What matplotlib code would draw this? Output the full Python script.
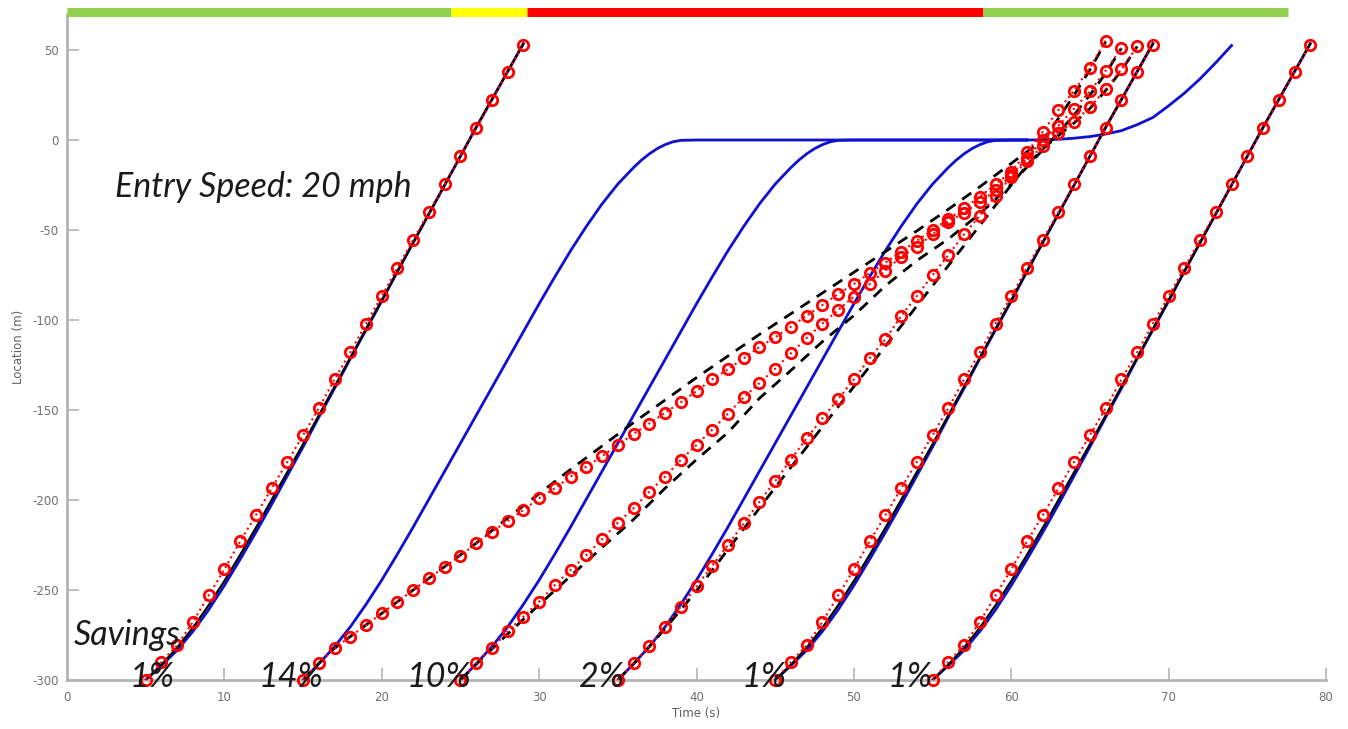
import matplotlib.pyplot as plt

plt.rcParams['axes.unicode_minus'] = False

# signal phase bar on top of the plot (time, s)
PHASE_START = [0, 24.4, 29.2, 58.2]
PHASE_END = [24.4, 29.2, 58.2, 77.6]
PHASE_COLOR = ['#92D050', '#FFFF00', '#FF0000', '#92D050']

# free-flow vehicles (enter at 5, 45, 55 s), sampled every second
V1_T = [5, 6, 7, 8, 9, 10, 11, 12, 13, 14, 15, 16, 17, 18, 19, 20, 21, 22, 23, 24, 25, 26, 27, 28, 29]
V5_T = [45, 46, 47, 48, 49, 50, 51, 52, 53, 54, 55, 56, 57, 58, 59, 60, 61, 62, 63, 64, 65, 66, 67, 68, 69]
V6_T = [55, 56, 57, 58, 59, 60, 61, 62, 63, 64, 65, 66, 67, 68, 69, 70, 71, 72, 73, 74, 75, 76, 77, 78, 79]
FREE_RED_Y = [-300, -290, -280.7, -267.8, -253, -238.5, -223, -208.5, -193.6, -178.8, -164, -149, -133,
              -118, -102, -86.8, -71, -55.4, -40.2, -24.7, -9, 6.4, 22, 37.8, 53]
FREE_BLACK_Y = [-300, -291.5, -282, -271, -258.5, -245, -230.5, -215.5, -200, -184.5, -169, -153, -137,
                -121, -105, -89, -73, -57, -41, -25, -9, 7, 22.5, 38, 53.5]
FREE_BLUE_Y = [-300, -292, -283.5, -273, -261, -247.5, -233, -218, -202.5, -186.5, -170.5, -154, -138,
               -121.5, -105.5, -89.5, -73, -57, -41, -25, -9, 7, 22.5, 38, 53.5]

# baseline (blue) vehicles that stop at the light
V2_BLUE_T = [15, 16, 17, 18, 19, 20, 21, 22, 23, 24, 25, 26, 27, 28, 29, 30, 31, 32, 33, 34, 35, 36, 36.5, 37,
             37.5, 38, 38.5, 39, 40, 61, 62, 63, 64, 65, 66, 67, 68, 69, 70, 71, 72, 73, 74]
V2_BLUE_Y = [-300, -291, -281.5, -270.5, -258, -244.5, -230, -215, -199.5, -184, -168.5, -153, -137.5, -122,
             -106.5, -91, -76, -61.5, -48, -35.5, -24.5, -15.3, -11.2, -7.7, -4.8, -2.6, -1, -0.2, 0,
             0, 0.1, 0.4, 1, 1.9, 3.3, 5.2, 8.5, 12.5, 19, 26, 34, 43, 52.5]
V3_BLUE_T = [25, 26, 27, 28, 29, 30, 31, 32, 33, 34, 35, 36, 37, 38, 39, 40, 41, 42, 43, 44, 45, 46, 46.5, 47,
             47.5, 48, 48.5, 49, 50, 61]
V3_BLUE_Y = [-300, -291, -281.5, -270.5, -258, -244.5, -230, -215, -199.5, -184, -168.5, -153, -137.5, -122,
             -106.5, -91, -76, -61.5, -48, -35.5, -24.5, -15.3, -11.2, -7.7, -4.8, -2.6, -1, -0.2, 0, 0]
V4_BLUE_T = [35, 36, 37, 38, 39, 40, 41, 42, 43, 44, 45, 46, 47, 48, 49, 50, 51, 52, 53, 54, 55, 56, 56.5, 57,
             57.5, 58, 58.5, 59, 60, 61]
V4_BLUE_Y = [-300, -291, -281.5, -270.5, -258, -244.5, -230, -215, -199.5, -184, -168.5, -153, -137.5, -122,
             -106.5, -91, -76, -61.5, -48, -35.5, -24.5, -15.3, -11.2, -7.7, -4.8, -2.6, -1, -0.2, 0, 0]

# eco-driving vehicles: red = actual, dashed black = planned
V2_T = [15, 16, 17, 18, 19, 20, 21, 22, 23, 24, 25, 26, 27, 28, 29, 30, 31, 32, 33, 34, 35, 36, 37, 38, 39, 40,
        41, 42, 43, 44, 45, 46, 47, 48, 49, 50, 51, 52, 53, 54, 55, 56, 57, 58, 59, 60, 61, 62, 63, 64, 65, 66]
V2_RED_Y = [-300, -290.7, -282.4, -275.9, -269.4, -263, -256.5, -250, -243.5, -237, -231, -224, -217.6, -211.7,
            -205.6, -199, -193.5, -187, -181.5, -175.6, -169.4, -163.3, -157.5, -151.5, -145.7, -139.5,
            -133, -127.4, -121.3, -115, -109.6, -103.7, -97.6, -91.7, -85.6, -80, -74, -68.2, -62, -56, -50,
            -44, -38, -31.5, -24.6, -17.6, -6.9, 4.6, 16.7, 27.4, 40.2, 55.2]
V2_DASH_T = [15, 16, 17, 18, 19, 20, 21, 22, 23, 24, 25, 26, 27, 28, 30, 32, 34, 36, 38, 40, 42, 44, 46, 48, 50,
             52, 54, 56, 58, 60, 62, 63, 64, 65, 66]
V2_DASH_Y = [-300, -290.7, -282.4, -275.9, -269.4, -263, -256.5, -250, -243.5, -237, -230.5, -224, -217, -210,
             -196.5, -183, -170, -157, -144.5, -132, -120, -108, -96.5, -85, -73.5, -62, -50.5, -38.5, -26,
             -13, 0, 12, 25, 39, 54.5]

V3_T = [25, 26, 27, 28, 29, 30, 31, 32, 33, 34, 35, 36, 37, 38, 39, 40, 41, 42, 43, 44, 45, 46, 47, 48, 49, 50,
        51, 52, 53, 54, 55, 56, 57, 58, 59, 60, 61, 62, 63, 64, 65, 66, 67]
V3_RED_Y = [-300, -290.7, -282.4, -273, -264.8, -256.5, -247.2, -238.9, -230.6, -221.8, -212.6, -204.6, -195.4,
            -187, -177.8, -169.4, -161, -152, -143, -135, -127, -118.5, -110, -102, -94.5, -87, -80, -72.6,
            -64.8, -59.3, -52.4, -45.4, -40.4, -34.6, -28, -19.5, -10, 0, 8, 17.5, 27, 38.5, 51]
V3_DASH_T = [25, 26, 27, 28, 29, 30, 32, 34, 36, 38, 40, 42, 44, 46, 48, 50, 52, 54, 56, 57, 58, 59, 60, 61, 62,
             63, 64, 65, 66, 67]
V3_DASH_Y = [-300, -291.3, -282.8, -274.5, -266.3, -258.2, -242.2, -226.4, -210.8, -193.5, -177.5, -162.5,
             -143.5, -128, -112, -97.5, -81, -67, -55, -48, -41, -33, -24.5, -15, -5.5, 4, 14, 25, 37, 51]

V4_T = [35, 36, 37, 38, 39, 40, 41, 42, 43, 44, 45, 46, 47, 48, 49, 50, 51, 52, 53, 54, 55, 56, 57, 58, 59, 60,
        61, 62, 63, 64, 65, 66, 67, 68]
V4_RED_Y = [-300, -290.7, -281, -270.4, -259.3, -248, -236.5, -225, -213, -201, -189.5, -177.5, -165.7, -154.6,
            -144, -133, -121.3, -110.7, -97.8, -86.7, -75, -63.9, -52.4, -42, -31, -20.5, -11.5, -3.5, 3.7,
            10.2, 18.2, 28.2, 39.3, 52]
V4_DASH_T = [35, 36, 37, 38, 39, 40, 45, 50, 55, 58, 60, 61, 62, 63, 64, 65, 66, 67, 68]
V4_DASH_Y = [-300, -291, -281.5, -271.5, -261, -250.5, -193, -137, -81, -47.5, -25, -14, -5, 2.5, 9.5, 17.5,
             27.5, 38.5, 52]

SAVINGS = ['1%', '14%', '10%', '2%', '1%', '1%']
SAVINGS_X = [5.43, 14.23, 23.63, 33.97, 44.28, 53.56]

BLUE = '#1010d0'
TEXT_FONT = ['Lato', 'DejaVu Sans']

fig = plt.figure(figsize=(13.48, 7.29), dpi=100)
ax = fig.add_axes([67 / 1348, 1 - 680 / 729, 1259 / 1348, 666 / 729])

# signal state bar
for x0, x1, c in zip(PHASE_START, PHASE_END, PHASE_COLOR):
    ax.plot([x0, x1], [71, 71], color=c, lw=6.5, solid_capstyle='butt', clip_on=False, zorder=5)

# baseline trajectories
for t, y in [(V1_T, FREE_BLUE_Y), (V5_T, FREE_BLUE_Y), (V6_T, FREE_BLUE_Y),
             (V2_BLUE_T, V2_BLUE_Y), (V3_BLUE_T, V3_BLUE_Y), (V4_BLUE_T, V4_BLUE_Y)]:
    ax.plot(t, y, '-', color=BLUE, lw=2, zorder=2)

# planned trajectories
for t in [V1_T, V5_T, V6_T]:
    ax.plot(t, FREE_BLACK_Y, '-', color='black', lw=1.6, zorder=3)
for t, y in [(V2_DASH_T, V2_DASH_Y), (V3_DASH_T, V3_DASH_Y), (V4_DASH_T, V4_DASH_Y)]:
    ax.plot(t, y, '--', color='black', lw=2, dashes=(4, 3), zorder=3)

# actual trajectories
for t, y in [(V1_T, FREE_RED_Y), (V5_T, FREE_RED_Y), (V6_T, FREE_RED_Y),
             (V2_T, V2_RED_Y), (V3_T, V3_RED_Y), (V4_T, V4_RED_Y)]:
    ax.plot(t, y, ':', color='red', lw=1.5, marker='o', ms=7.5, mfc='none', mec='red', mew=2,
            clip_on=False, zorder=4)

ax.text(3.05, -31.7, 'Entry Speed: 20 mph', fontsize=24.5, style='italic', family=TEXT_FONT,
        color='#1a1a1a', va='baseline', ha='left', zorder=6)
ax.text(0.44, -280.6, 'Savings', fontsize=24.5, style='italic', family=TEXT_FONT,
        color='#1a1a1a', va='baseline', ha='left', zorder=6)
for lab, x in zip(SAVINGS, SAVINGS_X):
    ax.text(x, -303.7, lab, fontsize=24.5, style='italic', family=TEXT_FONT,
            color='#1a1a1a', va='baseline', ha='center', zorder=6)

ax.set_xlim(0, 80)
ax.set_ylim(-300, 70)
ax.set_xticks(range(0, 81, 10))
ax.set_yticks(range(-300, 51, 50))
for s in ['top', 'right']:
    ax.spines[s].set_visible(False)
for s in ['left', 'bottom']:
    ax.spines[s].set_color('#b4b4b4')
    ax.spines[s].set_linewidth(2)
ax.tick_params(direction='in', length=8.5, width=1.2, color='#b4b4b4', labelcolor='#707070',
               labelsize=8.5)
ax.tick_params(axis='y', pad=6)
ax.tick_params(axis='x', pad=8)
ax.set_xlabel('Time (s)', fontsize=8.5, color='#606060', labelpad=2)
ax.set_ylabel('Location (m)', fontsize=8.5, color='#606060', labelpad=5)

fig.savefig('out.png', dpi=100, facecolor='white')
